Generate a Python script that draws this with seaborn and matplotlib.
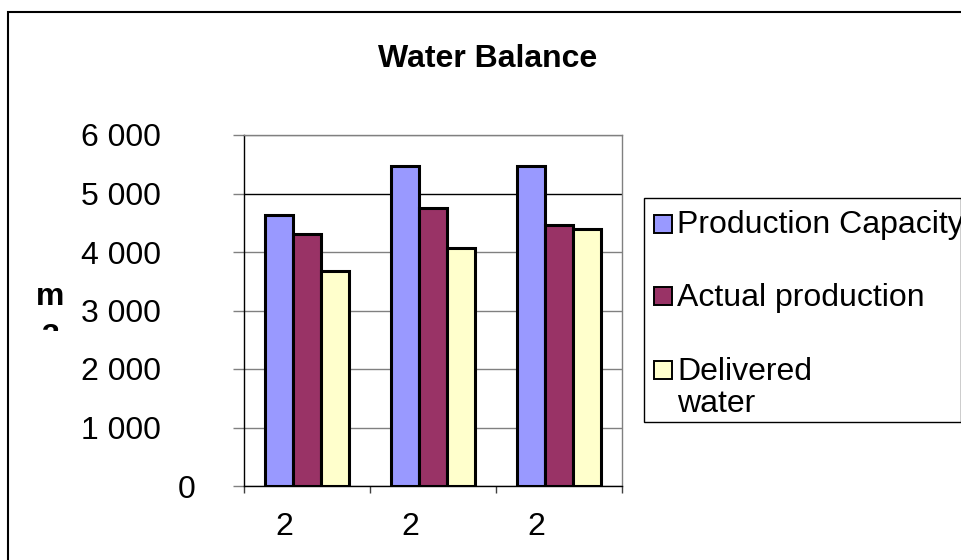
import numpy as np
import pandas as pd
import matplotlib
matplotlib.use("Agg")
from matplotlib import pyplot as plt
from matplotlib.patches import Rectangle
from matplotlib.transforms import ScaledTranslation
import seaborn as sns

sns.set_style("white")
plt.rcParams['font.family'] = ['Liberation Sans', 'DejaVu Sans']
plt.rcParams['text.color'] = 'black'
plt.rcParams['xtick.labelcolor'] = 'black'
plt.rcParams['ytick.labelcolor'] = 'black'

# data
periods = ["P1", "P2", "P3"]
tick_labels = ["2", "2", "2"]
series = ["Production Capacity", "Actual production", "Delivered water"]
capacity = [4630, 5475, 5475]
actual = [4310, 4750, 4470]
delivered = [3670, 4070, 4390]
yticks = [0, 1000, 2000, 3000, 4000, 5000, 6000]

colors = ["#9999FF", "#993366", "#FFFFCC"]

df = pd.DataFrame({
    "period": periods * 3,
    "series": [series[0]] * 3 + [series[1]] * 3 + [series[2]] * 3,
    "value": capacity + actual + delivered,
})

W, H = 962, 560
def fx(px):
    return px / W
def fy(py):
    return 1 - py / H

fig = plt.figure(figsize=(9.62, 5.6), dpi=100)
ax = fig.add_axes([fx(244), fy(486), 378 / W, 351 / H])

sns.barplot(data=df, x="period", y="value", hue="series", order=periods,
            hue_order=series, palette=dict(zip(series, colors)),
            width=0.667, saturation=1, edgecolor="black", linewidth=2.2,
            legend=False, ax=ax)

ax.set_xlim(-0.5, 2.5)
ax.set_ylim(0, 6000)
ax.set_xlabel("")
ax.set_ylabel("")

# x axis: tick marks between categories, labels near centres
ax.set_xticks([-0.5, 0.5, 1.5, 2.5])
ax.set_xticklabels([])
ax.set_xticks([0, 1, 2], minor=True)
ax.set_xticklabels(tick_labels, minor=True, fontsize=23, color="black")
ax.tick_params(axis="x", which="major", bottom=True, length=5, width=1,
               color="#404040", direction="out")
ax.tick_params(axis="x", which="minor", bottom=True, length=0, pad=19)
for lab in ax.get_xticklabels(minor=True):
    lab.set_transform(lab.get_transform() +
                      ScaledTranslation(-0.23, 0, fig.dpi_scale_trans))

# y axis
ax.set_yticks(yticks)
ax.set_yticklabels([f"{v:,}".replace(",", " ") for v in yticks],
                   fontsize=23, color="black")
ax.tick_params(axis="y", left=True, length=8, width=1, color="#808080",
               direction="out", pad=52)
zero_lab = ax.get_yticklabels()[0]
zero_lab.set_transform(zero_lab.get_transform() +
                       ScaledTranslation(0.35, 0, fig.dpi_scale_trans))

ax.yaxis.grid(True, color="#808080", linewidth=1.0)
ax.set_axisbelow(True)
ax.get_ygridlines()[5].set_color("black")

for side in ["left", "bottom"]:
    ax.spines[side].set_color("black")
    ax.spines[side].set_linewidth(1.0)
for side in ["top", "right"]:
    ax.spines[side].set_color("#808080")
    ax.spines[side].set_linewidth(1.0)

# title and axis unit
fig.text(fx(488), fy(67), "Water Balance", fontsize=23, fontweight="bold",
         ha="center", va="baseline", color="black")
fig.text(fx(50), fy(305), "m", fontsize=23, fontweight="bold",
         ha="center", va="baseline", color="black")
t3 = fig.text(fx(50), fy(346), "3", fontsize=23, fontweight="bold",
              ha="center", va="baseline", color="black")
t3.set_clip_path(Rectangle((0, fy(331)), 1, 1, transform=fig.transFigure))

# legend box
fig.add_artist(Rectangle((fx(644), fy(422)), (961 - 644) / W, (422 - 198) / H,
                         transform=fig.transFigure, facecolor="white",
                         edgecolor="black", linewidth=1.0))
marker_y = [224, 296, 369.5]
for c, my in zip(colors, marker_y):
    fig.add_artist(Rectangle((fx(654), fy(my + 9)), 18 / W, 18 / H,
                             transform=fig.transFigure, facecolor=c,
                             edgecolor="black", linewidth=1.4))
legend_lines = [("Production Capacity", 233), ("Actual production", 306),
                ("Delivered", 380), ("water", 412)]
for txt, by in legend_lines:
    fig.text(fx(677), fy(by), txt, fontsize=23, ha="left", va="baseline",
             color="black")

# chart frame
fig.add_artist(Rectangle((fx(8), -0.1), 1.2, fy(12) + 0.1,
                         transform=fig.transFigure, facecolor="none",
                         edgecolor="black", linewidth=1.5))

fig.savefig("out.png", dpi=100)
